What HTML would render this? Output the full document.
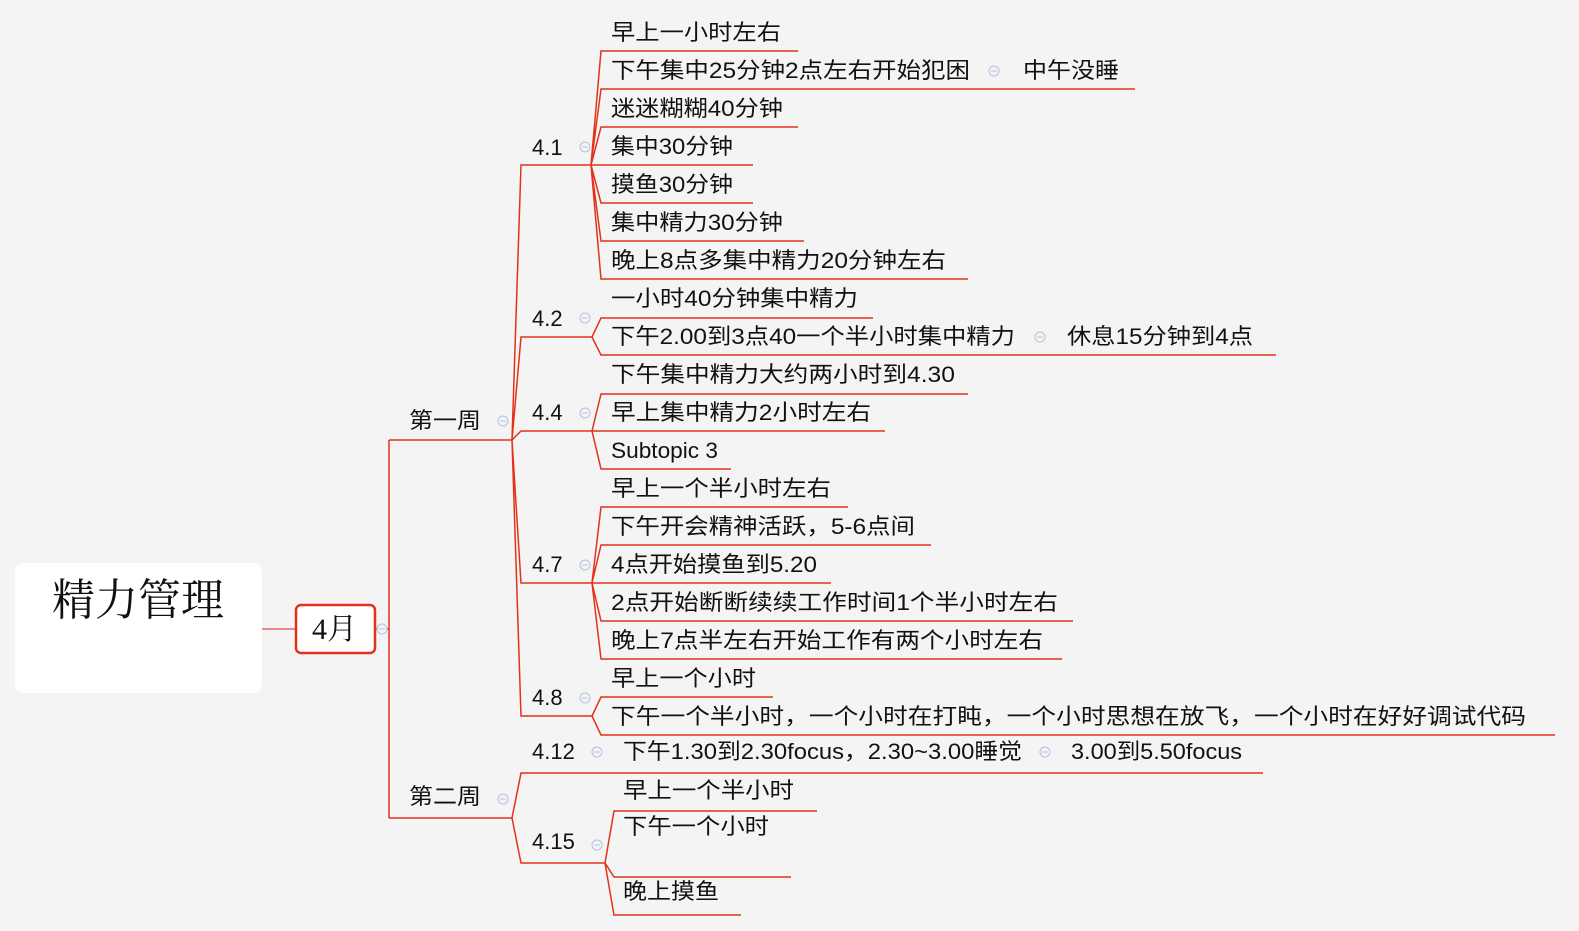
<!DOCTYPE html>
<html><head><meta charset="utf-8"><style>
html,body{margin:0;padding:0;background:#f4f4f4;}
svg{display:block;}
text{font-family:"Liberation Sans","Noto Sans CJK SC",sans-serif;font-size:22px;fill:#111;}
.s{font-family:"Liberation Serif","Noto Serif CJK SC",serif;}
</style></head><body>
<svg width="1579" height="931" viewBox="0 0 1579 931" xmlns="http://www.w3.org/2000/svg">
<rect width="1579" height="931" fill="#f4f4f4"/>
<!-- root -->
<rect x="15" y="563" width="247" height="130" rx="9" fill="#fff"/>
<text class="s" x="52" y="615" style="font-size:44px" textLength="172" lengthAdjust="spacingAndGlyphs">精力管理</text>
<line x1="262" y1="629" x2="296" y2="629" stroke="#e88" stroke-width="2"/>
<rect x="296" y="605" width="79" height="48" rx="5" fill="#fff" stroke="#e2321b" stroke-width="2.5"/>
<text class="s" x="312" y="639" style="font-size:30px">4月</text>
<g fill="none" stroke="#e2321b" stroke-width="1.5">
<path d="M375 629H389M389 440V818M389 440H512M389 818H512"/>
<!-- week1 fans -->
<path d="M512 440L521 165H591M512 440L521 337H592M512 440L521 431H592M512 440L521 583H592M512 440L521 716H592"/>
<!-- 4.1 -->
<path d="M591 165L601 51H798M591 165L601 89H1135M591 165L601 127H798M591 165H753M591 165L601 203H753M591 165L601 241H804M591 165L601 279H968"/>
<!-- 4.2 -->
<path d="M592 337L601 318H873M592 337L601 355H1276"/>
<!-- 4.4 -->
<path d="M592 431L601 394H968M592 431H885M592 431L601 469H731"/>
<!-- 4.7 -->
<path d="M592 583L601 507H848M592 583L601 545H931M592 583H831M592 583L601 621H1073M592 583L601 659H1062"/>
<!-- 4.8 -->
<path d="M592 716L601 697H773M592 716L601 735H1555"/>
<!-- week2 -->
<path d="M512 818L521 773H1263M512 818L521 863H605"/>
<path d="M605 863L614 811H817M605 863L614 877H791M605 863L614 915H741"/>
</g>
<!-- collapse circles -->
<g fill="#f4f4f4" stroke="#b4c0e4" stroke-width="1">
<circle cx="382" cy="629" r="5"/><circle cx="503" cy="421" r="5"/>
<circle cx="585" cy="147" r="5"/><circle cx="585" cy="318" r="5"/><circle cx="585" cy="413" r="5"/>
<circle cx="585" cy="565" r="5"/><circle cx="585" cy="698" r="5"/><circle cx="503" cy="799" r="5"/>
<circle cx="597" cy="752" r="5"/><circle cx="597" cy="845" r="5"/>
<circle cx="994" cy="71" r="5"/><circle cx="1040" cy="337" r="5"/><circle cx="1045" cy="752" r="5"/>
</g>
<g stroke="#b4c0e4" stroke-width="1">
<path d="M379 629h6M500 421h6M582 147h6M582 318h6M582 413h6M582 565h6M582 698h6M500 799h6M594 752h6M594 845h6M991 71h6M1037 337h6M1042 752h6"/>
</g>
<!-- labels -->
<text x="409" y="428" textLength="72" lengthAdjust="spacingAndGlyphs">第一周</text>
<text x="409" y="804" textLength="72" lengthAdjust="spacingAndGlyphs">第二周</text>
<text x="532" y="155">4.1</text>
<text x="532" y="326">4.2</text>
<text x="532" y="420">4.4</text>
<text x="532" y="572">4.7</text>
<text x="532" y="705">4.8</text>
<text x="532" y="759">4.12</text>
<text x="532" y="849">4.15</text>
<!-- children -->
<text x="611" y="40" textLength="170" lengthAdjust="spacingAndGlyphs">早上一小时左右</text>
<text x="611" y="78" textLength="359" lengthAdjust="spacingAndGlyphs">下午集中25分钟2点左右开始犯困</text>
<text x="1023" y="78" textLength="96" lengthAdjust="spacingAndGlyphs">中午没睡</text>
<text x="611" y="116" textLength="172" lengthAdjust="spacingAndGlyphs">迷迷糊糊40分钟</text>
<text x="611" y="154" textLength="122" lengthAdjust="spacingAndGlyphs">集中30分钟</text>
<text x="611" y="192" textLength="122" lengthAdjust="spacingAndGlyphs">摸鱼30分钟</text>
<text x="611" y="230" textLength="172" lengthAdjust="spacingAndGlyphs">集中精力30分钟</text>
<text x="611" y="268" textLength="335" lengthAdjust="spacingAndGlyphs">晚上8点多集中精力20分钟左右</text>
<text x="611" y="306" textLength="247" lengthAdjust="spacingAndGlyphs">一小时40分钟集中精力</text>
<text x="611" y="344" textLength="404" lengthAdjust="spacingAndGlyphs">下午2.00到3点40一个半小时集中精力</text>
<text x="1067" y="344" textLength="186" lengthAdjust="spacingAndGlyphs">休息15分钟到4点</text>
<text x="611" y="382" textLength="344" lengthAdjust="spacingAndGlyphs">下午集中精力大约两小时到4.30</text>
<text x="611" y="420" textLength="260" lengthAdjust="spacingAndGlyphs">早上集中精力2小时左右</text>
<text x="611" y="458" textLength="107" lengthAdjust="spacingAndGlyphs">Subtopic 3</text>
<text x="611" y="496" textLength="220" lengthAdjust="spacingAndGlyphs">早上一个半小时左右</text>
<text x="611" y="534" textLength="304" lengthAdjust="spacingAndGlyphs">下午开会精神活跃，5-6点间</text>
<text x="611" y="572" textLength="206" lengthAdjust="spacingAndGlyphs">4点开始摸鱼到5.20</text>
<text x="611" y="610" textLength="447" lengthAdjust="spacingAndGlyphs">2点开始断断续续工作时间1个半小时左右</text>
<text x="611" y="648" textLength="432" lengthAdjust="spacingAndGlyphs">晚上7点半左右开始工作有两个小时左右</text>
<text x="611" y="686" textLength="145" lengthAdjust="spacingAndGlyphs">早上一个小时</text>
<text x="611" y="724" textLength="915" lengthAdjust="spacingAndGlyphs">下午一个半小时，一个小时在打盹，一个小时思想在放飞，一个小时在好好调试代码</text>
<text x="623" y="759" textLength="399" lengthAdjust="spacingAndGlyphs">下午1.30到2.30focus，2.30~3.00睡觉</text>
<text x="1071" y="759" textLength="171" lengthAdjust="spacingAndGlyphs">3.00到5.50focus</text>
<text x="623" y="798" textLength="171" lengthAdjust="spacingAndGlyphs">早上一个半小时</text>
<text x="623" y="834" textLength="146" lengthAdjust="spacingAndGlyphs">下午一个小时</text>
<text x="623" y="899" textLength="96" lengthAdjust="spacingAndGlyphs">晚上摸鱼</text>
</svg>
</body></html>
